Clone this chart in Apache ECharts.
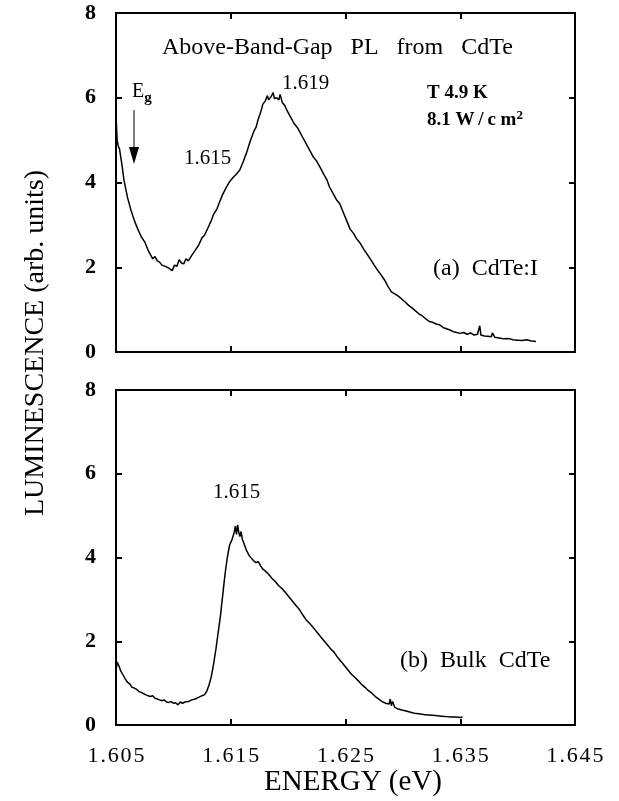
<!DOCTYPE html>
<html>
<head>
<meta charset="utf-8">
<script src="https://cdn.jsdelivr.net/npm/echarts@6/dist/echarts.min.js"></script>
<style>html,body{margin:0;padding:0;background:#fff;}#c{width:619px;height:801px;}</style>
</head>
<body>
<div id="c"></div>
<script>
// Energy (eV) / luminescence (arb. units)
const energyA = [1.6050,1.6051,1.6052,1.6053,1.6055,1.6057,1.6060,1.6063,1.6066,1.6069,1.6072,1.6075,1.6078,1.6080,1.6082,1.6084,1.6086,1.6088,1.6090,1.6093,1.6096,1.6099,1.6101,1.6103,1.6105,1.6107,1.6109,1.6111,1.6113,1.6116,1.6119,1.6122,1.6125,1.6127,1.6130,1.6133,1.6135,1.6138,1.6140,1.6143,1.6146,1.6149,1.6152,1.6155,1.6158,1.6161,1.6164,1.6167,1.6170,1.6172,1.6174,1.6176,1.6178,1.6180,1.6182,1.6183,1.6185,1.6187,1.6188,1.6190,1.6192,1.6193,1.6195,1.6197,1.6199,1.6201,1.6203,1.6205,1.6208,1.6210,1.6213,1.6216,1.6219,1.6222,1.6225,1.6228,1.6231,1.6234,1.6236,1.6239,1.6242,1.6245,1.6248,1.6251,1.6254,1.6257,1.6260,1.6263,1.6266,1.6269,1.6272,1.6275,1.6278,1.6281,1.6284,1.6287,1.6290,1.6293,1.6296,1.6299,1.6302,1.6305,1.6308,1.6311,1.6314,1.6317,1.6320,1.6323,1.6326,1.6329,1.6332,1.6335,1.6338,1.6341,1.6344,1.6347,1.6350,1.6353,1.6356,1.6359,1.6362,1.6365,1.6367,1.6368,1.6371,1.6374,1.6377,1.6378,1.6380,1.6384,1.6388,1.6392,1.6396,1.6400,1.6404,1.6408,1.6412,1.6416];
const lumA = [5.6,5.0,4.85,4.8,4.45,4.05,3.65,3.35,3.1,2.9,2.72,2.6,2.4,2.3,2.2,2.25,2.15,2.12,2.05,2.02,1.98,1.92,2.05,2.02,2.18,2.1,2.08,2.2,2.15,2.28,2.4,2.52,2.7,2.75,2.92,3.1,3.25,3.38,3.52,3.72,3.88,4.02,4.12,4.2,4.3,4.5,4.72,4.98,5.2,5.3,5.5,5.65,5.85,5.92,6.05,5.95,6.02,6.12,5.98,6.0,5.95,6.08,5.88,5.82,5.7,5.6,5.5,5.4,5.3,5.2,5.05,4.9,4.75,4.6,4.5,4.35,4.2,4.05,3.9,3.75,3.6,3.5,3.3,3.1,2.9,2.8,2.66,2.56,2.42,2.3,2.18,2.05,1.93,1.82,1.7,1.55,1.42,1.37,1.32,1.25,1.18,1.1,1.04,0.97,0.9,0.85,0.78,0.72,0.7,0.66,0.64,0.58,0.55,0.52,0.48,0.46,0.44,0.46,0.42,0.45,0.40,0.42,0.62,0.40,0.38,0.37,0.36,0.45,0.35,0.33,0.31,0.32,0.29,0.28,0.27,0.29,0.26,0.25];

const energyB = [1.6050,1.6051,1.6052,1.6054,1.6056,1.6058,1.6060,1.6062,1.6064,1.6066,1.6068,1.6070,1.6072,1.6074,1.6076,1.6078,1.6080,1.6082,1.6084,1.6086,1.6088,1.6090,1.6092,1.6094,1.6096,1.6098,1.6100,1.6102,1.6104,1.6106,1.6108,1.6110,1.6113,1.6116,1.6119,1.6122,1.6125,1.6127,1.6129,1.6131,1.6133,1.6135,1.6137,1.6139,1.6141,1.6143,1.6145,1.6147,1.6149,1.6151,1.6153,1.6154,1.6155,1.6156,1.6157,1.6158,1.6159,1.6160,1.6162,1.6164,1.6166,1.6168,1.6170,1.6172,1.6174,1.6176,1.6178,1.6180,1.6183,1.6186,1.6189,1.6192,1.6195,1.6198,1.6201,1.6204,1.6207,1.6210,1.6213,1.6216,1.6219,1.6222,1.6225,1.6228,1.6231,1.6234,1.6237,1.6240,1.6243,1.6246,1.6249,1.6252,1.6255,1.6258,1.6261,1.6264,1.6267,1.6270,1.6273,1.6276,1.6279,1.6282,1.6285,1.6288,1.6289,1.6290,1.6291,1.6293,1.6296,1.6299,1.6302,1.6306,1.6310,1.6314,1.6318,1.6322,1.6326,1.6330,1.6334,1.6338,1.6342,1.6346,1.6350,1.6352];
const lumB = [1.3,1.5,1.45,1.3,1.2,1.1,1.02,0.98,0.9,0.88,0.85,0.8,0.78,0.75,0.72,0.7,0.68,0.7,0.64,0.62,0.6,0.58,0.6,0.55,0.54,0.56,0.52,0.53,0.48,0.55,0.52,0.55,0.56,0.6,0.62,0.66,0.7,0.72,0.8,0.95,1.15,1.45,1.8,2.2,2.6,3.1,3.6,4.0,4.3,4.42,4.6,4.75,4.55,4.78,4.6,4.5,4.62,4.45,4.3,4.15,4.05,3.98,3.92,3.88,3.9,3.8,3.72,3.68,3.6,3.5,3.42,3.32,3.25,3.15,3.05,2.95,2.85,2.75,2.62,2.5,2.42,2.32,2.22,2.12,2.02,1.92,1.82,1.74,1.62,1.52,1.42,1.32,1.22,1.14,1.06,0.97,0.9,0.82,0.76,0.68,0.62,0.56,0.52,0.5,0.62,0.46,0.56,0.42,0.38,0.36,0.34,0.31,0.28,0.27,0.25,0.24,0.23,0.22,0.21,0.2,0.19,0.19,0.18,0.19];

const xTickLabels = ['1.605','1.615','1.625','1.635','1.645'];
const E0 = 1.605; // axis origin (eV); axis runs in meV offset from E0

const toSeries = (ex, ly) => ex.map((e, i) => [Math.round((e - E0) * 1e6) / 1000, ly[i]]);

const SERIF = '"Liberation Serif","DejaVu Serif",serif';
const axisLineStyle = { show: true, onZero: false, lineStyle: { color: '#000', width: 2 } };
const tickIn = { show: true, inside: true, length: 6, lineStyle: { color: '#000', width: 2 } };

function xAx(gridIndex, position, labels) {
  return {
    type: 'value', gridIndex, position, min: 0, max: 40, interval: 10,
    axisLine: axisLineStyle, axisTick: tickIn, splitLine: { show: false },
    axisLabel: labels ? {
      show: true, margin: 20, color: '#000', fontFamily: SERIF, fontSize: 22,
      formatter: v => xTickLabels[Math.round(v / 10)].split('').join('\u200A')
    } : { show: false }
  };
}
function yAx(gridIndex, position, labels) {
  return {
    type: 'value', gridIndex, position, min: 0, max: 8, interval: 2,
    axisLine: axisLineStyle, axisTick: tickIn, splitLine: { show: false },
    axisLabel: labels ? { show: true, margin: 20, color: '#000', fontFamily: SERIF, fontSize: 22, fontWeight: 'bold' } : { show: false }
  };
}

const chart = echarts.init(document.getElementById('c'), null, { renderer: 'canvas' });
const txt = (x, y, text, size, bold) => ({
  type: 'text', x, y,
  style: { text, fill: '#000', font: (bold ? 'bold ' : '') + size + 'px ' + SERIF, textAlign: 'left', textVerticalAlign: 'middle' }
});

chart.setOption({
  animation: false,
  backgroundColor: '#fff',
  grid: [
    { left: 116, top: 13, width: 459, height: 339 },
    { left: 116, top: 390, width: 459, height: 335 }
  ],
  xAxis: [xAx(0, 'bottom', false), xAx(0, 'top', false), xAx(1, 'bottom', true), xAx(1, 'top', false)],
  yAxis: [yAx(0, 'left', true), yAx(0, 'right', false), yAx(1, 'left', true), yAx(1, 'right', false)],
  series: [
    { type: 'line', xAxisIndex: 0, yAxisIndex: 0, data: toSeries(energyA, lumA), showSymbol: false, smooth: false,
      lineStyle: { color: '#000', width: 1.5 } },
    { type: 'line', xAxisIndex: 2, yAxisIndex: 2, data: toSeries(energyB, lumB), showSymbol: false, smooth: false,
      lineStyle: { color: '#000', width: 1.5 } }
  ],
  graphic: [
    txt(162, 48, 'Above-Band-Gap   PL   from   CdTe', 24),
    txt(282, 83, '1.619', 21),
    txt(184, 158, '1.615', 21),
    txt(427, 93, 'T 4.9 K', 19, true),
    { type: 'text', x: 427, y: 120, style: { rich: { n: { font: 'bold 19px ' + SERIF, fill: '#000' }, s: { font: 'bold 13px ' + SERIF, fill: '#000', padding: [0, 0, 9, 0] } }, text: '{n|8.1 W\u2009/\u2009c m}{s|2}', textVerticalAlign: 'middle' } },
    txt(433, 269, '(a)  CdTe:I', 24),
    txt(213, 492, '1.615', 21),
    txt(400, 661, '(b)  Bulk  CdTe', 24),
    { type: 'text', x: 132, y: 92, style: { rich: { e: { font: '20px ' + SERIF, fill: '#000' }, g: { font: 'bold 15px ' + SERIF, fill: '#000', padding: [12, 0, 0, 0] } }, text: '{e|E}{g|g}', textVerticalAlign: 'middle' } },
    { type: 'line', shape: { x1: 134, y1: 110, x2: 134, y2: 150 }, style: { stroke: '#000', lineWidth: 1 } },
    { type: 'polygon', shape: { points: [[129, 147], [139, 147], [134, 164]] }, style: { fill: '#000' } },
    { type: 'text', x: 353, y: 782, style: { text: 'ENERGY (eV)', fill: '#000', font: '29px ' + SERIF, textAlign: 'center', textVerticalAlign: 'middle' } },
    { type: 'text', x: 36, y: 343, rotation: Math.PI / 2, style: { text: 'LUMINESCENCE (arb. units)', fill: '#000', font: '28px ' + SERIF, textAlign: 'center', textVerticalAlign: 'middle' } }
  ]
});
</script>
</body>
</html>
